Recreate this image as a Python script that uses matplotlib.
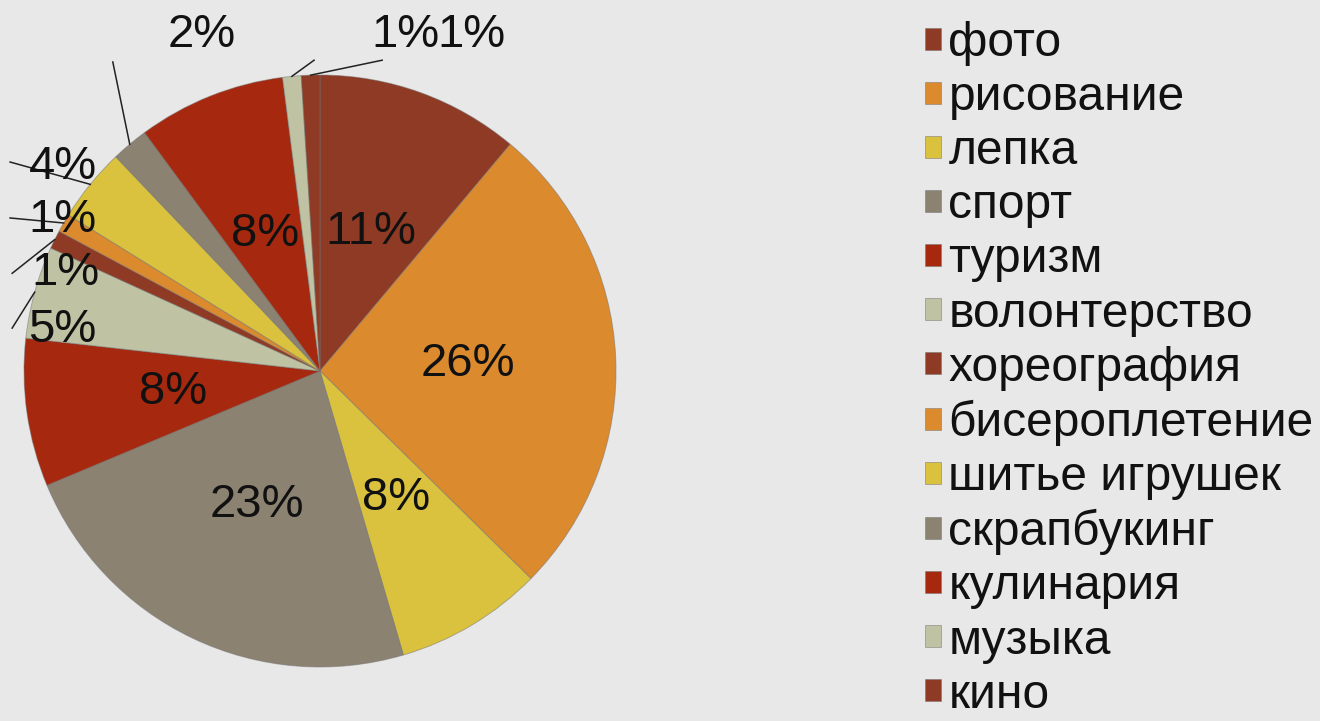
import numpy as np
import matplotlib
matplotlib.use("Agg")
import matplotlib.pyplot as plt

plt.rcParams['font.family'] = ['Liberation Sans', 'DejaVu Sans']

categories = ['фото', 'рисование', 'лепка', 'спорт', 'туризм', 'волонтерство',
              'хореография', 'бисероплетение', 'шитье игрушек', 'скрапбукинг',
              'кулинария', 'музыка', 'кино']
values = [11, 26, 8, 23, 8, 5, 1, 1, 4, 2, 8, 1, 1]

base_colors = ['#8f3a24', '#dc8a2e', '#dac23e', '#8b8271', '#a6290f', '#bfc3a3']
colors = [base_colors[i % len(base_colors)] for i in range(len(values))]

# label placement for the small slices (data units, radius = 1)
outside_text = {5: (-0.87, 0.14), 6: (-0.86, 0.33), 7: (-0.87, 0.51),
                8: (-0.87, 0.69), 9: (-0.40, 1.135), 11: (0.29, 1.135),
                12: (0.51, 1.135)}
line_end = {5: (-1.04, 0.145), 6: (-1.04, 0.33), 7: (-1.047, 0.517),
            8: (-1.047, 0.706), 9: (-0.70, 1.044), 11: (-0.02, 1.05),
            12: (0.21, 1.05)}

W, H = 1320, 721
fig = plt.figure(figsize=(W / 100, H / 100), dpi=100)
fig.patch.set_facecolor('#e8e8e8')

cx, cy, R = 320, 350, 296
ax = fig.add_axes([(cx - R) / W, (cy - R) / H, 2 * R / W, 2 * R / H])
ax.set_facecolor('none')

wedges, _ = ax.pie(values, colors=colors, startangle=90, counterclock=False,
                   wedgeprops=dict(edgecolor=(0.45, 0.45, 0.45, 0.5), linewidth=0.7))
ax.set_xlim(-1, 1)
ax.set_ylim(-1, 1)
ax.set_aspect('equal')
ax.axis('off')

total = sum(values)
for i, (w, v) in enumerate(zip(wedges, values)):
    pct = '%d%%' % round(100 * v / total)
    mid = np.deg2rad((w.theta1 + w.theta2) / 2)
    if i in outside_text:
        ex, ey = line_end[i]
        ax.plot([np.cos(mid), ex], [np.sin(mid), ey], color='#222222', lw=1.1,
                clip_on=False, zorder=3)
        tx, ty = outside_text[i]
        ax.text(tx, ty, pct, ha='center', va='center', fontsize=34,
                color='#111111', zorder=4)
    else:
        ax.text(0.5 * np.cos(mid), 0.5 * np.sin(mid), pct, ha='center',
                va='center', fontsize=34, color='#111111')

fig.legend(wedges, categories, loc='upper left',
           bbox_to_anchor=(925 / W, 1 - 21 / H), frameon=False, fontsize=34.5,
           handlelength=0.33, handleheight=0.33, handletextpad=0.16,
           labelspacing=0.19, borderpad=0, borderaxespad=0, labelcolor='#111111')

fig.savefig('out.png', dpi=100, facecolor=fig.get_facecolor())
